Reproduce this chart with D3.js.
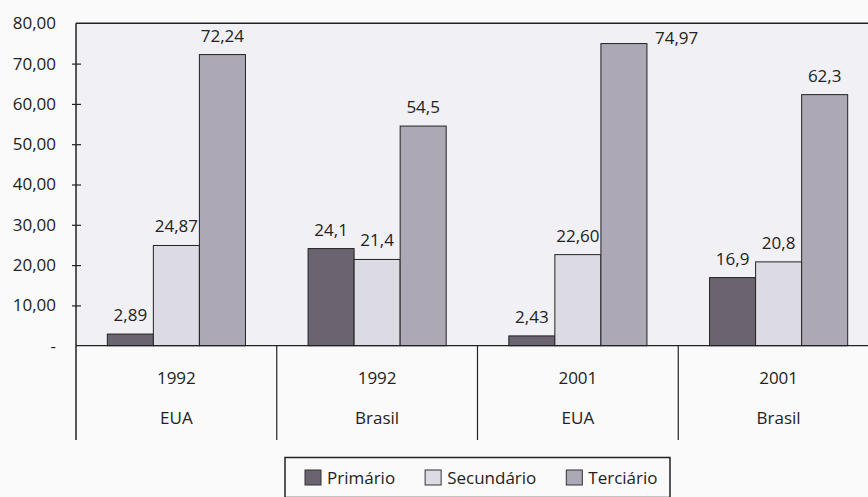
<!DOCTYPE html>
<html>
<head>
<meta charset="utf-8">
<script src="https://cdn.jsdelivr.net/npm/d3@7"></script>
<style>
  body { margin: 0; background: #fafafa; }
  svg { display: block; font-family: "Open Sans", sans-serif; }
</style>
</head>
<body>
<div id="chart"></div>
<script>
const width = 868;
const height = 497;

// Data
const years = ['1992', '1992', '2001', '2001'];
const countries = ['EUA', 'Brasil', 'EUA', 'Brasil'];
const sectors = ['Primário', 'Secundário', 'Terciário'];
const primario = [2.89, 24.1, 2.43, 16.9];
const secundario = [24.87, 21.4, 22.60, 20.8];
const terciario = [72.24, 54.5, 74.97, 62.3];
const primarioLabels = ['2,89', '24,1', '2,43', '16,9'];
const secundarioLabels = ['24,87', '21,4', '22,60', '20,8'];
const terciarioLabels = ['72,24', '54,5', '74,97', '62,3'];
const yTicks = [0, 10, 20, 30, 40, 50, 60, 70, 80];

const colors = ['#6b6370', '#dcdbe3', '#aca8b6'];

const plotLeft = 76, plotTop = 23.3, plotBottom = 345.7, plotRight = 879;

const svg = d3.select('#chart')
  .append('svg')
  .attr('width', width)
  .attr('height', height);

const x0 = d3.scaleBand()
  .domain(d3.range(years.length))
  .range([plotLeft, plotRight])
  .padding(0);

const x1 = d3.scaleBand()
  .domain(sectors)
  .range([0, x0.bandwidth()])
  .paddingInner(0)
  .paddingOuter(0.68);

const y = d3.scaleLinear()
  .domain([0, 80])
  .range([plotBottom, plotTop]);

// plot background
svg.append('rect')
  .attr('x', plotLeft).attr('y', plotTop)
  .attr('width', plotRight - plotLeft).attr('height', plotBottom - plotTop)
  .attr('fill', '#f1f0f4');

// bars
const series = [primario, secundario, terciario];
const labels = [primarioLabels, secundarioLabels, terciarioLabels];
const rows = [];
years.forEach((yr, i) => {
  sectors.forEach((s, j) => {
    rows.push({ i: i, s: s, j: j, v: series[j][i], label: labels[j][i] });
  });
});

svg.selectAll('.bar')
  .data(rows)
  .enter()
  .append('rect')
  .attr('class', 'bar')
  .attr('x', d => x0(d.i) + x1(d.s))
  .attr('y', d => y(d.v))
  .attr('width', x1.bandwidth())
  .attr('height', d => y(0) - y(d.v))
  .attr('fill', d => colors[d.j])
  .attr('stroke', '#222')
  .attr('stroke-width', 1);

// value labels (moved to the side when they would hit the top border)
svg.selectAll('.val')
  .data(rows)
  .enter()
  .append('text')
  .attr('class', 'val')
  .attr('font-size', 17)
  .attr('fill', '#222')
  .each(function (d) {
    const cx = x0(d.i) + x1(d.s) + x1.bandwidth() / 2;
    const yy = y(d.v) - 13;
    const t = d3.select(this);
    if (yy - 14 < plotTop) {
      t.attr('x', x0(d.i) + x1(d.s) + x1.bandwidth() + 8)
        .attr('y', y(d.v))
        .attr('text-anchor', 'start');
    } else {
      t.attr('x', cx).attr('y', yy).attr('text-anchor', 'middle');
    }
  })
  .text(d => d.label);

// frame lines
svg.append('line')
  .attr('x1', plotLeft).attr('x2', width)
  .attr('y1', plotTop).attr('y2', plotTop)
  .attr('stroke', '#222').attr('stroke-width', 1.5);
svg.append('line')
  .attr('x1', plotLeft).attr('x2', width)
  .attr('y1', plotBottom).attr('y2', plotBottom)
  .attr('stroke', '#222').attr('stroke-width', 1.2);

// y axis
const yAxis = d3.axisLeft(y)
  .tickValues(yTicks)
  .tickSize(0)
  .tickPadding(20)
  .tickFormat(d => d === 0 ? '-' : d.toFixed(2).replace('.', ','));

const gy = svg.append('g')
  .attr('transform', `translate(${plotLeft},0)`)
  .call(yAxis);
gy.select('.domain').remove();
gy.selectAll('text')
  .attr('font-size', 17)
  .attr('font-family', '"Open Sans", sans-serif')
  .attr('fill', '#222');
gy.selectAll('.tick')
  .filter(d => d > 0 && d < 80)
  .append('line')
  .attr('x1', -4).attr('x2', 5)
  .attr('stroke', '#222').attr('stroke-width', 1.2);

svg.append('line')
  .attr('x1', plotLeft).attr('x2', plotLeft)
  .attr('y1', plotTop).attr('y2', 440)
  .attr('stroke', '#222').attr('stroke-width', 1.5);

// category separators and labels
svg.selectAll('.sep')
  .data(d3.range(1, years.length))
  .enter()
  .append('line')
  .attr('class', 'sep')
  .attr('x1', d => x0(d)).attr('x2', d => x0(d))
  .attr('y1', plotBottom).attr('y2', 440)
  .attr('stroke', '#222').attr('stroke-width', 1.2);

svg.selectAll('.year')
  .data(years)
  .enter()
  .append('text')
  .attr('x', (d, i) => x0(i) + x0.bandwidth() / 2)
  .attr('y', 384)
  .attr('text-anchor', 'middle')
  .attr('font-size', 17)
  .attr('fill', '#222')
  .text(d => d);

svg.selectAll('.country')
  .data(countries)
  .enter()
  .append('text')
  .attr('x', (d, i) => x0(i) + x0.bandwidth() / 2)
  .attr('y', 424)
  .attr('text-anchor', 'middle')
  .attr('font-size', 17)
  .attr('fill', '#222')
  .text(d => d);

// legend
const legend = svg.append('g');
legend.append('rect')
  .attr('x', 285).attr('y', 457.5)
  .attr('width', 385).attr('height', 40)
  .attr('fill', 'none')
  .attr('stroke', '#222').attr('stroke-width', 1.5);

let cursor = 305;
sectors.forEach((s, j) => {
  legend.append('rect')
    .attr('x', cursor).attr('y', 470)
    .attr('width', 16).attr('height', 15)
    .attr('fill', colors[j])
    .attr('stroke', '#333').attr('stroke-width', 1);
  const t = legend.append('text')
    .attr('x', cursor + 22).attr('y', 484)
    .attr('font-size', 17)
    .attr('fill', '#222')
    .text(s);
  cursor += 22 + t.node().getComputedTextLength() + 30;
});
</script>
</body>
</html>
